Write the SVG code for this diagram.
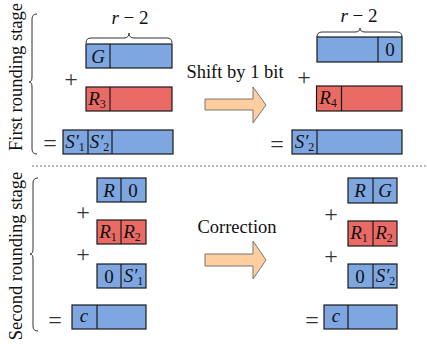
<svg xmlns="http://www.w3.org/2000/svg" width="427" height="344" viewBox="0 0 427 344">
<style>
.b{fill:#7EA6E0;stroke:#1a1a1a;stroke-width:1.2}
.r{fill:#EA6B66;stroke:#1a1a1a;stroke-width:1.2}
.d{stroke:#1a1a1a;stroke-width:1.2}
text{font-family:'Liberation Serif','Times New Roman','DejaVu Serif',serif;fill:#111}
.m{font-style:italic;font-size:19px;text-anchor:middle}
.n{font-size:19px;text-anchor:middle}
.s{font-size:12px;font-style:normal}
.op{font-size:24px;fill:#333;text-anchor:middle}
.lbl{font-size:18.5px;text-anchor:middle}
.br{fill:none;stroke:#333;stroke-width:1}
.arr{fill:#FFCE9F;stroke:#777;stroke-width:1}
</style>
<text class="lbl" transform="translate(22,77) rotate(-90)">First rounding stage</text>
<text class="lbl" transform="translate(22,256) rotate(-90)">Second rounding stage</text>
<path class="br" d="M37,14 q-5,0 -5,5 V77 q0,5 -3,5 q3,0 3,5 V149 q0,5 5,5"/>
<path class="br" d="M38,178 q-5,0 -5,5 V249 q0,5 -3,5 q3,0 3,5 V326 q0,5 5,5"/>
<line x1="32" y1="166" x2="427" y2="166" stroke="#555" stroke-width="0.8" stroke-dasharray="2,2"/>
<g id="stage1-left">
<path class="br" d="M86,43 q0,-5 5,-5 h33 q5,0 5,-5 q0,5 5,5 h33 q5,0 5,5"/>
<text class="n" x="130" y="24"><tspan font-style="italic">r</tspan> − 2</text>
<rect class="b" x="86" y="44" width="86" height="24"/>
<line class="d" x1="110" y1="44" x2="110" y2="68"/>
<text class="m" x="98" y="63">G</text>
<text class="op" x="71" y="87">+</text>
<rect class="r" x="86" y="87" width="86" height="24"/>
<line class="d" x1="110" y1="87" x2="110" y2="111"/>
<text class="m" x="97" y="105">R<tspan class="s" dy="3">3</tspan></text>
<text class="op" x="50" y="151">=</text>
<rect class="b" x="63" y="130" width="110" height="24"/>
<line class="d" x1="88" y1="130" x2="88" y2="154"/>
<line class="d" x1="112" y1="130" x2="112" y2="154"/>
<text class="m" x="75" y="148">S′<tspan class="s" dy="3">1</tspan></text>
<text class="m" x="99.5" y="148">S′<tspan class="s" dy="3">2</tspan></text>
</g>
<g id="shift">
<text class="lbl" x="235" y="78">Shift by 1 bit</text>
<polygon class="arr" points="205,99 253,99 253,87 266,105 253,123 253,110 205,110"/>
</g>
<g id="stage1-right">
<path class="br" d="M317,37 q0,-5 5,-5 h33 q5,0 5,-4 q0,4 5,4 h32 q5,0 5,5"/>
<text class="n" x="359" y="22"><tspan font-style="italic">r</tspan> − 2</text>
<rect class="b" x="317" y="37" width="85" height="25"/>
<line class="d" x1="378" y1="37" x2="378" y2="62"/>
<text class="n" x="390" y="56">0</text>
<text class="op" x="304" y="85">+</text>
<rect class="r" x="316.5" y="86" width="85.5" height="25"/>
<line class="d" x1="341.5" y1="86" x2="341.5" y2="111"/>
<text class="m" x="328" y="104">R<tspan class="s" dy="3">4</tspan></text>
<text class="op" x="277" y="152">=</text>
<rect class="b" x="292" y="130" width="110" height="24"/>
<line class="d" x1="317" y1="130" x2="317" y2="154"/>
<text class="m" x="304.5" y="148">S′<tspan class="s" dy="3">2</tspan></text>
</g>
<g id="stage2-left">
<rect class="b" x="97" y="178" width="49" height="24"/>
<line class="d" x1="121" y1="178" x2="121" y2="202"/>
<text class="m" x="109" y="197">R</text>
<text class="n" x="133" y="197">0</text>
<text class="op" x="83" y="220">+</text>
<rect class="r" x="97" y="220" width="49" height="24"/>
<line class="d" x1="121" y1="220" x2="121" y2="244"/>
<text class="m" x="108" y="238">R<tspan class="s" dy="3">1</tspan></text>
<text class="m" x="132" y="238">R<tspan class="s" dy="3">2</tspan></text>
<text class="op" x="83" y="262">+</text>
<rect class="b" x="97" y="264" width="49" height="24"/>
<line class="d" x1="121" y1="264" x2="121" y2="288"/>
<text class="n" x="109" y="283">0</text>
<text class="m" x="133.5" y="282">S′<tspan class="s" dy="3">1</tspan></text>
<text class="op" x="55" y="328">=</text>
<rect class="b" x="72" y="305" width="74" height="24"/>
<line class="d" x1="97" y1="305" x2="97" y2="329"/>
<text class="m" x="84" y="322">c</text>
</g>
<g id="correction">
<text class="lbl" x="237" y="233">Correction</text>
<polygon class="arr" points="205,254 253,254 253,241 266,260 253,279 253,266 205,266"/>
</g>
<g id="stage2-right">
<rect class="b" x="348" y="178" width="49" height="25"/>
<line class="d" x1="373" y1="178" x2="373" y2="203"/>
<text class="m" x="360" y="197">R</text>
<text class="m" x="385" y="197">G</text>
<text class="op" x="331" y="222">+</text>
<rect class="r" x="348" y="221" width="49" height="25"/>
<line class="d" x1="373" y1="221" x2="373" y2="246"/>
<text class="m" x="359" y="239">R<tspan class="s" dy="3">1</tspan></text>
<text class="m" x="384" y="239">R<tspan class="s" dy="3">2</tspan></text>
<text class="op" x="331" y="264">+</text>
<rect class="b" x="348" y="264" width="49" height="24"/>
<line class="d" x1="373" y1="264" x2="373" y2="288"/>
<text class="n" x="360" y="283">0</text>
<text class="m" x="385.5" y="282">S′<tspan class="s" dy="3">2</tspan></text>
<text class="op" x="312" y="328">=</text>
<rect class="b" x="324" y="305" width="73" height="24"/>
<line class="d" x1="348" y1="305" x2="348" y2="329"/>
<text class="m" x="336" y="322">c</text>
</g>
</svg>
